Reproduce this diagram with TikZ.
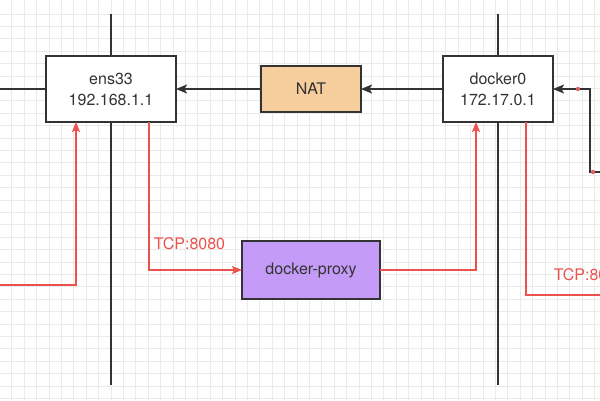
\documentclass[tikz,border=0pt]{standalone}
\usepackage{fontspec}
\setmainfont{TeX Gyre Heros}
\usetikzlibrary{positioning,arrows.meta}
\definecolor{inkgray}{RGB}{51,51,51}
\definecolor{linkred}{RGB}{236,82,76}
\definecolor{dotred}{RGB}{224,96,96}
\definecolor{natfill}{RGB}{246,205,157}
\definecolor{proxyfill}{RGB}{196,155,246}
\definecolor{gridgray}{RGB}{234,234,234}

\begin{document}
\begin{tikzpicture}[
  x=1pt, y=-1pt,
  font=\fontsize{16}{21}\selectfont,
  every node/.style={text=inkgray},
  iface/.style={draw=inkgray, line width=1.8pt, outer sep=0pt, fill=white, align=center, minimum height=66pt},
  proc/.style={draw=inkgray, line width=1.8pt, outer sep=0pt, align=center},
  wire/.style={draw=inkgray, line width=1.8pt},
  darr/.style={draw=inkgray, line width=1.6pt, -{Stealth[length=11pt, width=9pt, inset=2.5pt]}},
  redarr/.style={draw=linkred, line width=1.6pt, -{Stealth[length=10pt, width=8pt, inset=2pt]}},
  redline/.style={draw=linkred, line width=1.6pt},
  port/.style={text=linkred, inner sep=0pt, anchor=base west},
]
\useasboundingbox (0,0) rectangle (600,400);
\clip (0,0) rectangle (600,400);
% grid paper
\foreach \i in {0,...,48}
  \draw[gridgray, line width=0.8pt] ({11.7+12.4*\i},0) -- ({11.7+12.4*\i},400);
\foreach \j in {0,...,31}
  \draw[gridgray, line width=0.8pt] (0,{14+12.4*\j}) -- (600,{14+12.4*\j});
% interfaces
\node[iface, minimum width=130pt] (ens33) at (111,89) {ens33\\192.168.1.1};
\node[proc, fill=natfill, minimum width=100pt, minimum height=46pt, right=85pt of ens33] (nat) {NAT};
\node[iface, minimum width=110pt, right=82pt of nat] (docker0) {docker0\\172.17.0.1};
\node[proc, fill=proxyfill, minimum width=138pt, minimum height=58pt, below=129pt of nat] (proxy) {docker-proxy};
% network wires
\coordinate[above=42pt of ens33] (etop);
\coordinate[below=263pt of ens33] (ebot);
\coordinate[left=46pt of ens33] (eleft);
\coordinate[above=42pt of docker0] (dtop);
\coordinate[below=263pt of docker0] (dbot);
\draw[wire] (ens33.north) -- (etop);
\draw[wire] (ens33.south) -- (ebot);
\draw[wire] (ens33.west) -- (eleft);
\draw[wire] (docker0.north) -- (dtop);
\draw[wire] (docker0.south) -- (dbot);
% outbound through NAT
\draw[darr] (nat) -- (ens33);
\draw[darr] (docker0) -- (nat);
\coordinate (ext) at (612,172);
\draw[darr] (ext) -| ([xshift=37pt]docker0.east) -- (docker0.east);
\fill[dotred] ([xshift=25pt]docker0.east) circle (2.2pt);
\fill[dotred] ([xshift=-19pt]ext) circle (2.2pt);
% port mapping
\coordinate (lanin) at (0,285);
\coordinate (wanout) at (612,295);
\draw[redarr] (lanin) -| ([xshift=-35pt]ens33.south);
\draw[redarr] ([xshift=38pt]ens33.south) |- node[port, pos=0.5, xshift=4pt, yshift=21pt] (p1) {TCP:8080} (proxy.west);
\draw[redarr] (proxy.east) -| ([xshift=-22pt]docker0.south);
\draw[redline] ([xshift=28pt]docker0.south) |- node[port, pos=0.5, xshift=27pt, yshift=15pt] (p2) {TCP:8080} (wanout);
\end{tikzpicture}
\end{document}
